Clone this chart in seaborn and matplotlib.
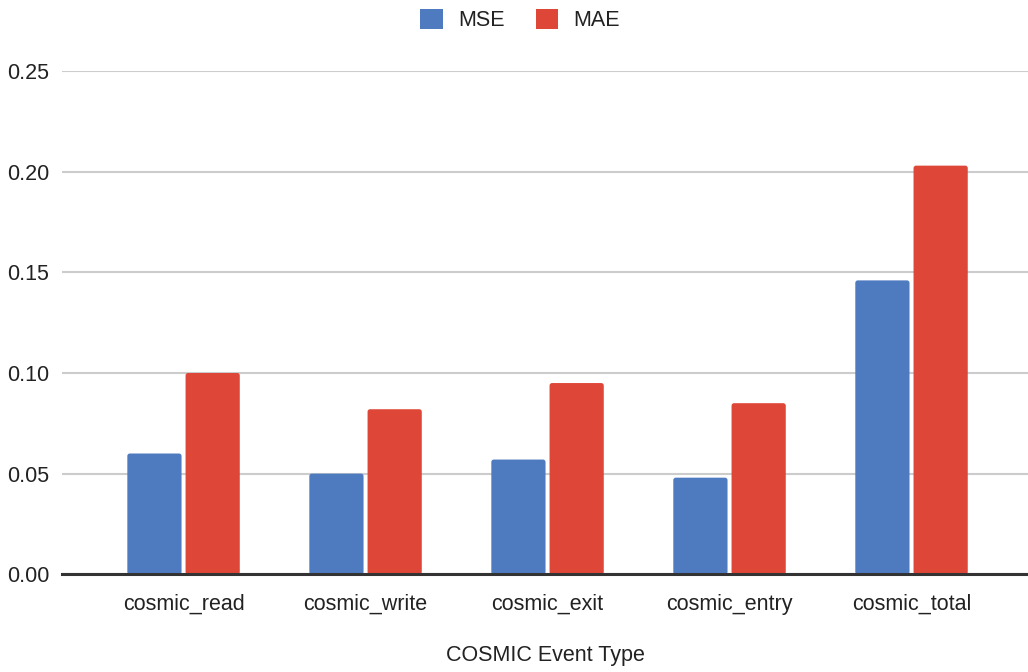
import matplotlib
matplotlib.use("Agg")
import matplotlib.pyplot as plt
from matplotlib.patches import FancyBboxPatch
import pandas as pd
import seaborn as sns

categories = ["cosmic_read", "cosmic_write", "cosmic_exit", "cosmic_entry", "cosmic_total"]
mse = [0.060, 0.050, 0.057, 0.048, 0.146]
mae = [0.100, 0.082, 0.095, 0.085, 0.203]
series = ["MSE", "MAE"]
colors = ["#4e7ac0", "#de4637"]
y_ticks = [0.00, 0.05, 0.10, 0.15, 0.20, 0.25]

df = pd.DataFrame({
    "event": categories * 2,
    "metric": [series[0]] * len(categories) + [series[1]] * len(categories),
    "value": mse + mae,
})

sns.set_theme(style="white")
plt.rcParams["font.family"] = ["Liberation Sans", "DejaVu Sans"]

fig = plt.figure(figsize=(10.28, 6.72), dpi=100)
ax = fig.add_axes([0.0603, 0.1454, 0.9397, 0.7489])

sns.barplot(data=df, x="event", y="value", hue="metric", order=categories,
            hue_order=series, palette=colors, width=0.64, gap=0.069,
            saturation=1, linewidth=0, ax=ax, legend=True)

ax.set_ylim(0, 0.25)
ax.set_xlim(-0.668, 4.640)

# soften the bar corners slightly
fig.canvas.draw()
bbox = ax.get_window_extent()
x_per_px = (ax.get_xlim()[1] - ax.get_xlim()[0]) / bbox.width
y_per_px = (ax.get_ylim()[1] - ax.get_ylim()[0]) / bbox.height
for bar in list(ax.patches):
    if bar.get_height() <= 0:
        continue
    x0, y0 = bar.get_x(), bar.get_y()
    w, h = bar.get_width(), bar.get_height()
    rounded = FancyBboxPatch((x0, y0), w, h,
                             boxstyle=f"round,pad=0,rounding_size={2.5 * x_per_px}",
                             mutation_aspect=y_per_px / x_per_px,
                             facecolor=bar.get_facecolor(), edgecolor="none",
                             zorder=bar.get_zorder())
    bar.set_visible(False)
    ax.add_patch(rounded)

ax.set_yticks(y_ticks)
ax.set_yticklabels([f"{v:.2f}" for v in y_ticks])
ax.yaxis.grid(True, color="#cccccc", linewidth=1.5)
ax.set_axisbelow(True)
for side in ["top", "right", "left"]:
    ax.spines[side].set_visible(False)
ax.spines["bottom"].set_color("#333333")
ax.spines["bottom"].set_linewidth(2.2)
ax.spines["bottom"].set_zorder(5)
ax.tick_params(axis="y", length=0, pad=9, labelsize=15.5, labelcolor="#222222")
ax.tick_params(axis="x", length=0, pad=14, labelsize=15.5, labelcolor="#222222")
ax.set_ylabel("")
ax.set_xlabel("COSMIC Event Type", fontsize=15.5, color="#222222", labelpad=22)

handles, labels = ax.get_legend_handles_labels()
ax.get_legend().remove()
fig.legend(handles, labels, loc="center", bbox_to_anchor=(0.506, 0.970), ncol=2,
           frameon=False, fontsize=15.5, handlelength=1.05, handleheight=1.05,
           handletextpad=0.7, columnspacing=1.45, labelcolor="#222222")

fig.savefig("out.png", dpi=100)
